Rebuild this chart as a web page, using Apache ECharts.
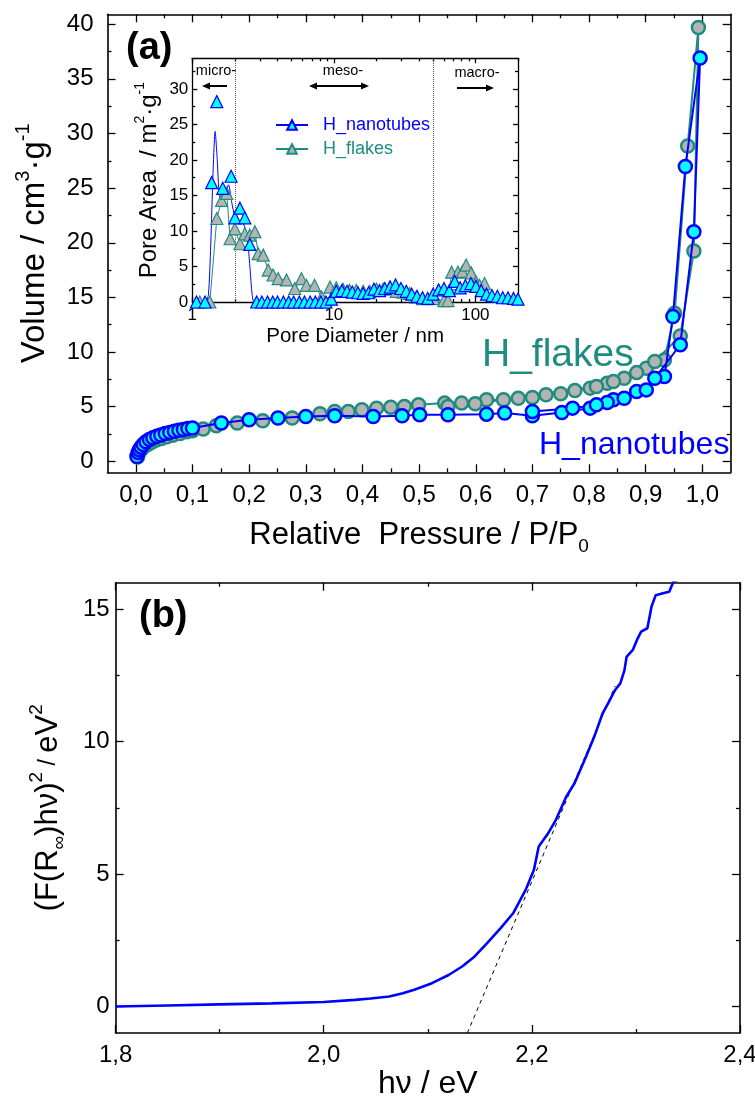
<!DOCTYPE html>
<html><head><meta charset="utf-8">
<script src="https://cdn.jsdelivr.net/npm/echarts@6/dist/echarts.min.js"></script>
<style>html,body{margin:0;padding:0;background:#fff}#c{width:755px;height:1108px}</style>
</head><body><div id="c"></div>
<script>
// ---------- (a) main isotherms ----------
const ntP = [0.002,0.004,0.006,0.009,0.013,0.018,0.024,0.030,0.037,0.044,0.052,0.060,0.068,0.076,0.084,0.092,0.100,0.151,0.200,0.251,0.300,0.351,0.419,0.470,0.501,0.551,0.619,0.651,0.700,0.752,0.802,0.843,0.884,0.933,0.948,0.970,0.996,0.985,0.961,0.916,0.901,0.862,0.832,0.813,0.771,0.700];
const ntV = [0.45,0.8,1.05,1.3,1.55,1.8,2.0,2.15,2.3,2.42,2.55,2.65,2.75,2.85,2.92,3.0,3.05,3.51,3.81,3.96,4.11,4.17,4.11,4.17,4.26,4.26,4.32,4.42,4.17,4.47,4.87,5.63,6.39,7.76,13.25,26.97,36.9,21.0,10.67,7.6,6.54,5.78,5.38,5.17,4.87,4.57];
const flP = [0.003,0.006,0.010,0.015,0.021,0.028,0.036,0.045,0.055,0.066,0.078,0.090,0.100,0.119,0.142,0.179,0.224,0.276,0.325,0.351,0.375,0.399,0.425,0.450,0.474,0.499,0.545,0.575,0.619,0.649,0.675,0.700,0.724,0.750,0.775,0.802,0.832,0.862,0.901,0.933,0.951,0.974,0.993,0.985,0.961,0.916,0.884,0.843,0.813,0.599,0.551];
const flV = [0.4,0.8,1.1,1.35,1.55,1.75,1.95,2.1,2.25,2.4,2.55,2.7,2.8,2.96,3.26,3.51,3.72,3.96,4.36,4.57,4.57,4.72,4.87,4.96,5.03,5.18,5.33,5.33,5.63,5.63,5.78,5.85,6.09,6.18,6.48,6.7,7.15,7.6,8.52,9.28,13.55,28.85,39.7,19.25,11.48,9.13,8.12,7.3,6.85,5.27,5.03];
const topXTicks = [0,0.1,0.2,0.3,0.4,0.5,0.6,0.7,0.8,0.9,1.0];
const topXMinor = [0.05,0.15,0.25,0.35,0.45,0.55,0.65,0.75,0.85,0.95];
const topYTicks = [0,5,10,15,20,25,30,35,40];
const topYMinor = [2.5,7.5,12.5,17.5,22.5,27.5,32.5,37.5];

// ---------- inset: pore size distribution ----------
const ntD = [1.07,1.23,1.37,1.49,1.64,1.88,2.0,2.17,2.35,2.55,2.85,3.1,3.4,3.7,4.0,4.4,4.8,5.2,5.7,6.2,6.8,7.4,8.1,8.8,9.6,10.4,11.4,12.4,13.5,14.8,16.1,17.6,19.2,21.0,22.9,25.0,27.3,29.8,32.5,35.5,38.7,42.3,46.1,50.3,55.0,60.0,65.5,71.5,78.0,85.0,93,101,110,120,131,143,156,170,186,200];
const ntA = [0,0,16.8,28.2,16.0,17.7,11.85,13.2,11.85,8.1,0,0,0,0,0,0,0,0,0,0,0,0,0,0,0.4,1.5,1.6,1.5,1.4,1.3,1.2,1.3,1.8,1.6,1.9,2.1,2.4,1.9,1.5,1.1,0.8,0.6,0.5,1.1,1.7,1.9,1.6,2.9,2.0,2.3,2.6,2.2,1.6,1.1,0.9,0.8,0.6,0.6,0.5,0.4];
const ntFitD = [1.25,1.3,1.35,1.4,1.45,1.5,1.55,1.6,1.7,1.8,1.9,2.0,2.1,2.3,2.45,2.55,2.65,2.75,8.0,9.0,10,15,20,25,30,40,50,60,70,85,100,120,150,200];
const ntFitA = [0,1,8,18,24,20,15,14.5,15,16.5,14,12,11.5,11,9,5,1,0,0,0.5,1.3,1.3,1.5,1.9,1.6,0.8,0.8,1.4,1.7,1.8,1.7,1.1,0.7,0.4];
const flD = [1.13,1.33,1.49,1.61,1.75,1.85,2.0,2.17,2.35,2.55,2.77,2.92,3.17,3.44,3.72,4.04,4.63,5.3,5.9,6.4,7.3,8.2,9.4,10.4,11.6,12.9,14.4,16.1,17.9,20.0,22.3,24.8,27.6,30.8,34.3,38.2,42.5,50.7,60,64,68,75.3,81,86,93.5,101,107,116];
const flA = [0,0,11.75,14.3,15.3,8.9,10.3,8.2,9.6,9.4,9.9,6.8,6.6,4.5,3.8,3.3,3.1,1.9,3.3,2.35,2.35,0.7,2.1,2.0,1.8,1.65,1.65,1.5,1.5,1.8,1.8,2.1,1.5,1.4,1.2,0.7,0.47,0.47,0.2,0.2,4.2,4.2,4.3,5.2,4.1,2.8,2.35,2.6];
const insetXTicks = [1,10,100];
const insetXMinor = [2,3,4,5,6,7,8,9,20,30,40,50,60,70,80,90,200];
const insetYTicks = [0,5,10,15,20,25,30];
const insetYMinor = [2.5,7.5,12.5,17.5,22.5,27.5,32.5];
const poreLimits = [2,50];

// ---------- (b) Tauc plot ----------
const hv = [1.80,1.85,1.90,1.95,2.00,2.03,2.045,2.063,2.076,2.087,2.104,2.12,2.133,2.145,2.157,2.17,2.182,2.194,2.202,2.2066,2.215,2.223,2.233,2.241,2.252,2.26,2.268,2.274,2.28,2.285,2.289,2.291,2.297,2.301,2.305,2.311,2.315,2.319,2.326,2.332,2.336,2.34];
const tauc = [0.0,0.04,0.08,0.12,0.17,0.25,0.3,0.38,0.5,0.63,0.88,1.19,1.51,1.89,2.39,2.96,3.52,4.40,5.16,6.04,6.5,7.04,7.92,8.43,9.43,10.19,11.07,11.5,11.95,12.2,12.7,13.2,13.46,13.84,14.15,14.28,15.1,15.53,15.6,15.66,16.04,16.1];
const tanHv = [2.138,2.28];
const tanF = [-1,12.1];
const botXTicks = [1.8,2.0,2.2,2.4];
const botXMinor = [1.9,2.1,2.3];
const botYTicks = [0,5,10,15];
const botYMinor = [2.5,7.5,12.5];

const FONT = '"Liberation Sans", Arial, Helvetica, sans-serif';
const BLUE = '#0000ff', CYAN = '#00ffff', TEAL = '#1e8c7e', GREY = '#b4b4b4';
const comma = v => Number(v).toFixed(1).replace('.', ',');
const zip = (a, b) => a.map((v, i) => [v, b[i]]);

const xAxes = [], yAxes = [];
function addAxes(list, dim, grid, type, min, max, majors, minors, o) {
  const pos = dim === 'x' ? ['bottom', 'top'] : ['left', 'right'];
  const line = {show: true, onZero: false, lineStyle: {color: '#000', width: o.lw || 1.6}};
  const noLine = {show: false, onZero: false};
  const base = () => {
    const b = {type: type, gridIndex: grid, min: min, max: max, splitLine: {show: false}, axisPointer: {show: false}, silent: true};
    if (type === 'log') b.logBase = 10;
    return b;
  };
  const idx = list.length;
  const a = base();
  Object.assign(a, {
    position: pos[0], axisLine: line,
    axisTick: {show: true, inside: true, length: o.tl, customValues: majors, lineStyle: {color: '#000', width: 1.3}},
    axisLabel: {show: true, customValues: majors, margin: o.margin, fontSize: o.fs, color: '#000', fontFamily: FONT, formatter: o.fmt},
    name: o.name, nameLocation: 'middle', nameGap: o.gap, nameRotate: o.rot, nameTextStyle: o.ns
  });
  list.push(a);
  [[pos[0], minors, o.ml, false], [pos[1], majors, o.tl, true], [pos[1], minors, o.ml, false]].forEach(function (s) {
    const b = base();
    Object.assign(b, {position: s[0], axisLine: s[3] ? line : noLine,
      axisTick: {show: true, inside: true, length: s[2], customValues: s[1], lineStyle: {color: '#000', width: 1.3}},
      axisLabel: {show: false}});
    list.push(b);
  });
  return idx;
}

const richName = (size, lh) => ({color: '#000', fontFamily: FONT, fontSize: size, lineHeight: lh,
  rich: {
    a: {fontSize: size, fontFamily: FONT, color: '#000', lineHeight: lh, verticalAlign: 'middle'},
    b: {fontSize: Math.round(size * 0.75), fontFamily: FONT, color: '#000', lineHeight: lh, verticalAlign: 'middle'},
    sup: {fontSize: Math.round(size * 0.6), fontFamily: FONT, color: '#000', lineHeight: lh, verticalAlign: 'top'},
    sub: {fontSize: Math.round(size * 0.6), fontFamily: FONT, color: '#000', lineHeight: lh, verticalAlign: 'bottom'}
  }});

// grid 0: main (a)
const tx = addAxes(xAxes, 'x', 0, 'value', -0.05, 1.05, topXTicks, topXMinor,
  {tl: 8, ml: 4, margin: 11, fs: 24, fmt: comma, name: '{a|Relative  Pressure / P/P}{sub|0}', gap: 42, ns: richName(31, 42)});
const ty = addAxes(yAxes, 'y', 0, 'value', -1, 40.9, topYTicks, topYMinor,
  {tl: 8, ml: 4, margin: 14, fs: 24, fmt: v => String(v), name: '{a|Volume / cm}{sup|3}{a|·g}{sup|-1}', gap: 40, rot: 90, ns: richName(33, 42)});
// grid 1: inset
const ix = addAxes(xAxes, 'x', 1, 'log', 1, 200, insetXTicks, insetXMinor,
  {tl: 5, ml: 3, lw: 1.3, margin: 5, fs: 17, fmt: v => String(Math.round(v)), name: 'Pore Diameter / nm', gap: 24, ns: {color: '#000', fontFamily: FONT, fontSize: 20.5}});
const iy = addAxes(yAxes, 'y', 1, 'value', 0, 34.3, insetYTicks, insetYMinor,
  {tl: 5, ml: 3, lw: 1.3, margin: 4, fs: 17, fmt: v => String(v), name: '{a|Pore Area  / m}{sup|2}{a|·g}{sup|-1}', gap: 24, rot: 90, ns: richName(24, 32)});
// grid 2: (b)
const bx = addAxes(xAxes, 'x', 2, 'value', 1.8, 2.4, botXTicks, botXMinor,
  {tl: 8, ml: 4, margin: 10, fs: 24, fmt: comma, name: 'hν / eV', gap: 30, ns: {color: '#000', fontFamily: FONT, fontSize: 32}});
const by = addAxes(yAxes, 'y', 2, 'value', -1, 16, botYTicks, botYMinor,
  {tl: 8, ml: 4, margin: 6, fs: 24, fmt: v => String(v), name: '{a|(F(R}{sub|∞}{a|)hν)}{sup|2}{b| / }{a|eV}{sup|2}', gap: 46, rot: 90, ns: richName(31, 42)});

function arrowHead(x, y, dir) {
  return {type: 'polygon', shape: {points: [[x, y], [x - dir * 8, y - 3.5], [x - dir * 8, y + 3.5]]}, style: {fill: '#000'}, z: 50};
}
function hline(x1, x2, y) {
  return {type: 'line', shape: {x1: x1, y1: y, x2: x2, y2: y}, style: {stroke: '#000', lineWidth: 2}, z: 50};
}
function label(text, x, y, size, color, weight) {
  return {type: 'text', x: x, y: y, z: 50, style: {text: text, fontSize: size, fontFamily: FONT, fontWeight: weight || 'normal', fill: color || '#000', align: 'left', verticalAlign: 'top'}};
}
function clabel(text, x, y, size) {
  return {type: 'text', x: x, y: y, z: 50, style: {text: text, fontSize: size, fontFamily: FONT, fill: '#000', align: 'center', verticalAlign: 'middle'}};
}

const option = {
  animation: false,
  backgroundColor: '#fff',
  grid: [
    {left: 107.5, top: 14.3, width: 623.2, height: 458, containLabel: false, outerBoundsMode: 'none'},
    {left: 192.3, top: 58.3, width: 325.7, height: 243.7, containLabel: false, outerBoundsMode: 'none'},
    {left: 115.6, top: 582.7, width: 624.4, height: 450.3, containLabel: false, outerBoundsMode: 'none'}
  ],
  xAxis: xAxes,
  yAxis: yAxes,
  legend: {
    data: [{name: 'H_nanotubes', textStyle: {color: BLUE}}, {name: 'H_flakes', textStyle: {color: TEAL}}],
    orient: 'vertical', left: 270, top: 111, itemWidth: 32, itemHeight: 12, itemGap: 6,
    selectedMode: false,
    textStyle: {fontSize: 18, fontFamily: FONT, padding: [0, 0, 0, 10]}
  },
  series: [
    {type: 'line', name: 'iso_flakes', xAxisIndex: tx, yAxisIndex: ty, data: zip(flP, flV),
      symbol: 'circle', symbolSize: 13, z: 2,
      itemStyle: {color: GREY, borderColor: TEAL, borderWidth: 2.5},
      lineStyle: {color: TEAL, width: 2}},
    {type: 'line', name: 'iso_nanotubes', xAxisIndex: tx, yAxisIndex: ty, data: zip(ntP, ntV),
      symbol: 'circle', symbolSize: 13, z: 3,
      itemStyle: {color: CYAN, borderColor: BLUE, borderWidth: 2.5},
      lineStyle: {color: BLUE, width: 2}},
    {type: 'line', name: 'H_nanotubes', xAxisIndex: ix, yAxisIndex: iy, data: zip(ntFitD, ntFitA),
      showSymbol: false, symbol: 'triangle', symbolSize: 12, smooth: 0.25, z: 4,
      itemStyle: {color: CYAN, borderColor: BLUE, borderWidth: 1.2},
      lineStyle: {color: BLUE, width: 1}},
    {type: 'line', name: 'H_flakes', xAxisIndex: ix, yAxisIndex: iy, data: zip(flD, flA),
      symbol: 'triangle', symbolSize: 12, z: 5,
      itemStyle: {color: GREY, borderColor: TEAL, borderWidth: 1.2},
      lineStyle: {color: TEAL, width: 1},
      markLine: {silent: true, symbol: ['none', 'none'], label: {show: false},
        lineStyle: {type: 'dotted', color: '#555', width: 1},
        data: poreLimits.map(v => ({xAxis: v}))}},
    {type: 'scatter', name: 'H_nanotubes', xAxisIndex: ix, yAxisIndex: iy, data: zip(ntD, ntA),
      symbol: 'triangle', symbolSize: 12, z: 6,
      itemStyle: {color: CYAN, borderColor: BLUE, borderWidth: 1.2, opacity: 1}},
    {type: 'line', name: 'tauc', xAxisIndex: bx, yAxisIndex: by, data: zip(hv, tauc),
      showSymbol: false, symbol: 'none', z: 4,
      lineStyle: {color: BLUE, width: 2.6}},
    {type: 'line', name: 'tangent', xAxisIndex: bx, yAxisIndex: by, data: zip(tanHv, tanF),
      showSymbol: false, symbol: 'none', z: 3,
      lineStyle: {color: '#000', width: 1, type: [4, 4]}}
  ],
  graphic: [
    label('(a)', 126, 30, 38, '#000', 'bold'),
    label('(b)', 139, 598, 38, '#000', 'bold'),
    label('H_flakes', 482, 336, 39, TEAL),
    label('H_nanotubes', 539, 429, 32, BLUE),
    clabel('micro-', 216, 71, 14.5),
    clabel('meso-', 343, 71, 14.5),
    clabel('macro-', 477, 73, 14.5),
    hline(208, 227, 86), arrowHead(202, 86, -1),
    hline(316, 362, 86), arrowHead(309, 86, -1), arrowHead(369, 86, 1),
    hline(457, 487, 88), arrowHead(494, 88, 1)
  ]
};

const chart = echarts.init(document.getElementById('c'), null, {renderer: 'canvas'});
chart.setOption(option);
</script></body></html>
